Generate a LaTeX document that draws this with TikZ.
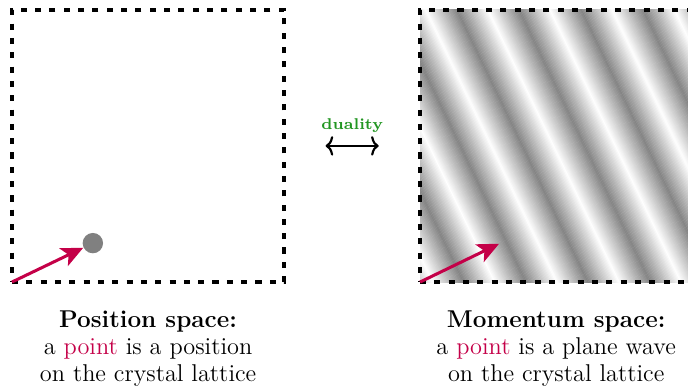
\documentclass[tikz,border=0pt]{standalone}
\usepackage{xcolor}
\usepackage{amsmath}
\usepackage{tikz}
\usetikzlibrary{arrows.meta, positioning, calc, backgrounds}
\definecolor{kred}{RGB}{196,0,72}
\definecolor{dualgreen}{RGB}{34,150,34}
\tikzset{
	latbox/.style={rectangle, draw, line width=1.8pt, dash pattern=on 2.8pt off 3.8pt,
		minimum width=4.41cm, minimum height=4.41cm, inner sep=0pt, outer sep=0pt},
	dotpt/.style={circle, fill=gray, minimum size=0.33cm, inner sep=0pt},
	karr/.style={-{Stealth[length=10pt, width=9pt, inset=2.5pt]}, line width=1.4pt, kred},
	darr/.style={{To[length=3.5pt, width=9pt]}-{To[length=3.5pt, width=9pt]}, line width=1pt},
	capt/.style={align=center, inner sep=3pt, font=\fontsize{11.2pt}{12.3pt}\selectfont},
	lbl/.style={font=\fontsize{7.2pt}{9pt}\selectfont\bfseries, text=dualgreen},
}

\begin{document}
\begin{tikzpicture}
	\useasboundingbox (-0.194,-1.669) rectangle (10.95,4.568);
	\node[latbox, anchor=south west] (posbox) at (0,0) {};
	\node[latbox, right=2.2cm of posbox] (mombox) {};
	
	% plane wave in momentum space
	\begin{scope}[on background layer]
		\clip (mombox.south west) rectangle (mombox.north east);
		\begin{scope}[shift={(mombox.south west)}, rotate=25.7]
			\foreach \s in {-0.4,-0.38,...,6.2} {
				\pgfmathsetmacro{\g}{48*2*abs(mod(\s-0.173+9.07,0.907)/0.907-0.5)}
				\pgfmathsetmacro{\g}{48-\g}
				\fill[black!\g] (\s,-6) rectangle ++(0.025,12);
			}
		\end{scope}
	\end{scope}
	
	\node[dotpt] (pt) at ($(posbox.south west)+(1.31,0.63)$) {};
	\draw[karr] (posbox.south west) -- (pt);
	\coordinate (ktip) at ($(mombox.south west)+(1.28,0.62)$);
	\draw[karr] (mombox.south west) -- (ktip);
	
	\coordinate (mid) at ($(posbox.east)!0.5!(mombox.west)$);
	\coordinate (dualL) at ($(mid)+(-0.43,0)$);
	\coordinate (dualR) at ($(mid)+(0.43,0)$);
	\draw[darr] (dualL) -- node[lbl, above=2.5pt] (dualtxt) {duality} (dualR);
	
	\node[capt, below=0.36cm of posbox] (poscapt) {\textbf{Position space:}\\
		a \textcolor{kred}{point} is a position\\
		on the crystal lattice};
	\node[capt, below=0.36cm of mombox] (momcapt) {\textbf{Momentum space:}\\
		a \textcolor{kred}{point} is a plane wave\\
		on the crystal lattice};
\end{tikzpicture}
\end{document}
